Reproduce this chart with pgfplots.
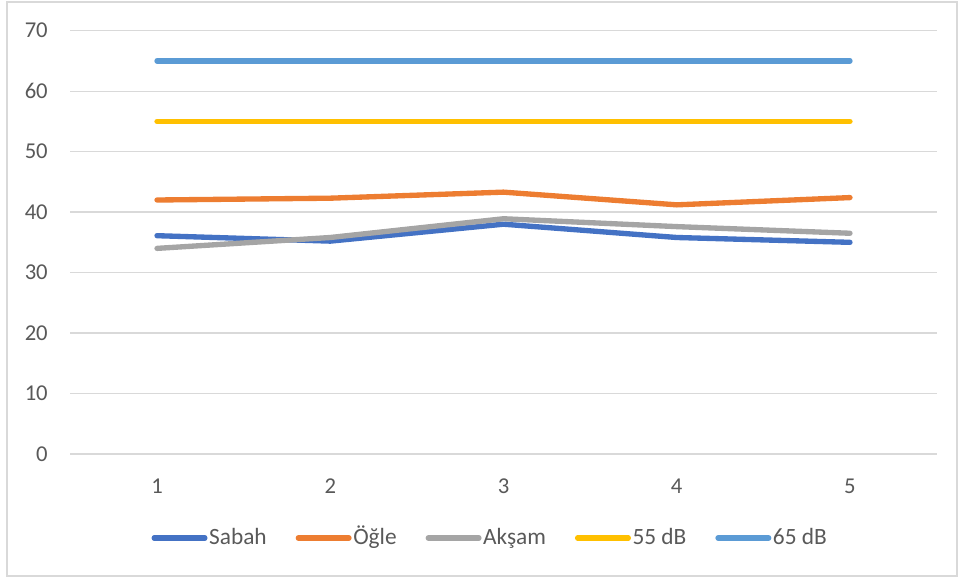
\documentclass[border=0pt]{standalone}
\usepackage{fontspec}
\setmainfont{Carlito}
\usepackage{pgfplots}
\pgfplotsset{compat=1.18}
\definecolor{sabah}{HTML}{4472C4}
\definecolor{ogle}{HTML}{ED7D31}
\definecolor{aksam}{HTML}{A5A5A5}
\definecolor{db55}{HTML}{FFC000}
\definecolor{db65}{HTML}{5B9BD5}
\definecolor{gridgray}{HTML}{D9D9D9}
\definecolor{txtgray}{HTML}{595959}
\begin{document}
\begin{tikzpicture}
\path[use as bounding box] (-52.8pt,-93.75pt) rectangle (666.45pt,340.5pt);
\draw[gridgray, line width=1.2pt] (-47.55pt,-91.5pt) rectangle (664.95pt,339pt);
\begin{axis}[
  at={(0pt,0pt)}, anchor=south west,
  scale only axis, width=649.65pt, height=317.5pt,
  xmin=0.5, xmax=5.5, ymin=0, ymax=70,
  xtick={1,2,3,4,5}, ytick={0,10,...,70},
  ymajorgrids, grid style={draw=gridgray, line width=0.9pt},
  axis line style={draw=none},
  major tick length=0pt,
  tick label style={font=\fontsize{17pt}{20pt}\selectfont, text=txtgray},
  /pgf/number format/assume math mode=true,
  yticklabel style={inner sep=0pt, anchor=east, xshift=-16.8pt},
  xticklabel style={inner sep=0pt, anchor=north, yshift=-18.75pt},
  clip=false,
  every axis plot/.append style={line width=4pt, line cap=round, line join=round, mark=none},
  legend columns=5,
  legend image code/.code={\draw[line width=4pt, line cap=round] (0pt,0pt) -- (38pt,0pt);},
  legend style={at={(0.4844,0)}, anchor=center, yshift=-63pt, draw=none, fill=none,
    inner sep=0pt, font=\fontsize{17.5pt}{20pt}\selectfont, text=txtgray,
    nodes={inner sep=1.2pt, text height=12pt, text depth=3pt},
    /tikz/every even column/.append style={column sep=20.5pt}},
]
\addplot[sabah] coordinates {(1,36.1) (2,35.2) (3,38.0) (4,35.8) (5,35.0)};
\addlegendentry{Sabah}
\addplot[ogle] coordinates {(1,42.0) (2,42.3) (3,43.3) (4,41.2) (5,42.4)};
\addlegendentry{Öğle}
\addplot[aksam] coordinates {(1,34.0) (2,35.8) (3,38.9) (4,37.6) (5,36.5)};
\addlegendentry{Akşam}
\addplot[db55] coordinates {(1,55) (2,55) (3,55) (4,55) (5,55)};
\addlegendentry{55 dB}
\addplot[db65] coordinates {(1,65) (2,65) (3,65) (4,65) (5,65)};
\addlegendentry{65 dB}
\end{axis}
\end{tikzpicture}
\end{document}
